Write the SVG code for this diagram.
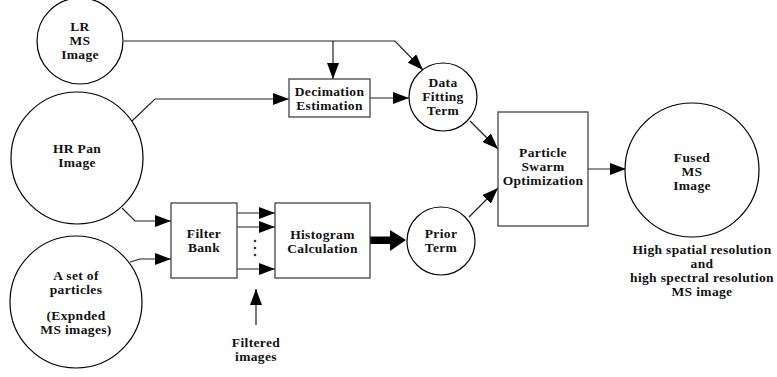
<svg xmlns="http://www.w3.org/2000/svg" width="777" height="377" viewBox="0 0 777 377">
<style>
.n{fill:#fff;stroke:#000;stroke-width:1.2}
.b{fill:#fff;stroke:#444;stroke-width:1.3}
text{font-family:'Liberation Serif','Times New Roman',serif;font-weight:bold;font-size:13.5px;letter-spacing:0.35px;text-anchor:middle;fill:#111}
.c{fill:none;stroke:#222;stroke-width:1.2}
</style>
<defs>
<marker id="ah" markerUnits="userSpaceOnUse" markerWidth="16" markerHeight="12" refX="16" refY="6" orient="auto">
<path d="M0,0 L16,6 L0,12 Z" fill="#000"/>
</marker>
</defs>
<g id="connectors">
<path class="c" d="M124,41 H395 L423,70" marker-end="url(#ah)"/>
<path class="c" d="M333,41 V79" marker-end="url(#ah)"/>
<path class="c" d="M132,121 L155,99 H289" marker-end="url(#ah)"/>
<path class="c" d="M370,98 H409" marker-end="url(#ah)"/>
<path class="c" d="M122,208 L135,221 H171" marker-end="url(#ah)"/>
<path class="c" d="M130,262 L140,259 H171" marker-end="url(#ah)"/>
<path class="c" d="M237,213 H275" marker-end="url(#ah)"/>
<path class="c" d="M237,227 H275" marker-end="url(#ah)"/>
<path class="c" d="M237,269 H275" marker-end="url(#ah)"/>
<circle cx="255" cy="241" r="1.3" fill="#333"/>
<circle cx="255" cy="248" r="1.3" fill="#333"/>
<circle cx="255" cy="255" r="1.3" fill="#333"/>
<path class="c" d="M256,325 V289" marker-end="url(#ah)"/>
<path d="M370,236.5 H390 V230 L406,240 L390,251 V244 H370 Z" fill="#000"/>
<path class="c" d="M470,121 L498,149" marker-end="url(#ah)"/>
<path class="c" d="M469,217 L498,188" marker-end="url(#ah)"/>
<path class="c" d="M588,169 H626" marker-end="url(#ah)"/>
</g>
<g id="lr-ms">
<circle class="n" cx="80" cy="41" r="43"/>
<text x="80" y="31">LR</text>
<text x="80" y="45">MS</text>
<text x="80" y="59">Image</text>
</g>
<g id="hr-pan">
<circle class="n" cx="77" cy="158" r="66"/>
<text x="77" y="153">HR Pan</text>
<text x="77" y="167">Image</text>
</g>
<g id="particles">
<circle class="n" cx="76" cy="302" r="66"/>
<text x="76" y="280">A set of</text>
<text x="76" y="294">particles</text>
<text x="76" y="320">(Expnded</text>
<text x="76" y="334">MS images)</text>
</g>
<g id="decimation">
<rect class="b" x="289" y="79" width="81" height="38"/>
<text x="329.5" y="96">Decimation</text>
<text x="329.5" y="110">Estimation</text>
</g>
<g id="data-fitting">
<circle class="n" cx="443" cy="97" r="34"/>
<text x="443" y="87">Data</text>
<text x="443" y="101">Fitting</text>
<text x="443" y="115">Term</text>
</g>
<g id="filter-bank">
<rect class="b" x="171" y="203" width="66" height="75"/>
<text x="204" y="238">Filter</text>
<text x="204" y="252">Bank</text>
</g>
<g id="histogram">
<rect class="b" x="275" y="203" width="95" height="75"/>
<text x="322.5" y="239">Histogram</text>
<text x="322.5" y="253">Calculation</text>
</g>
<g id="prior">
<circle class="n" cx="441" cy="241" r="34"/>
<text x="441" y="238">Prior</text>
<text x="441" y="252">Term</text>
</g>
<g id="filtered-label">
<text x="256" y="347">Filtered</text>
<text x="256" y="361">images</text>
</g>
<g id="pso">
<rect class="b" x="498" y="112" width="90" height="114"/>
<text x="543" y="157">Particle</text>
<text x="543" y="171">Swarm</text>
<text x="543" y="185">Optimization</text>
</g>
<g id="fused">
<circle class="n" cx="692" cy="170" r="67"/>
<text x="692" y="162">Fused</text>
<text x="692" y="176">MS</text>
<text x="692" y="190">Image</text>
</g>
<g id="caption">
<text x="702" y="254">High spatial resolution</text>
<text x="702" y="268">and</text>
<text x="702" y="282">high spectral resolution</text>
<text x="702" y="296">MS image</text>
</g>
</svg>
